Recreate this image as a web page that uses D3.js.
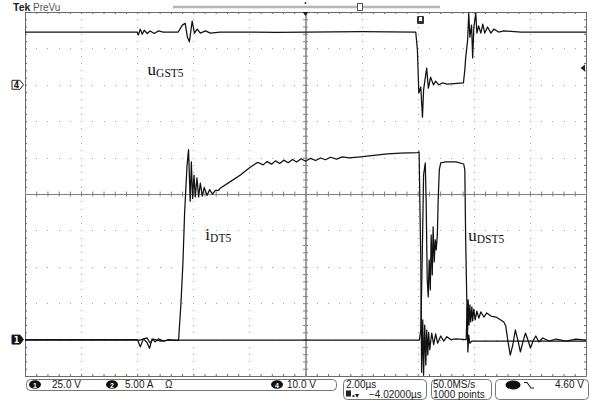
<!DOCTYPE html>
<html>
<head>
<meta charset="utf-8">
<script src="https://cdn.jsdelivr.net/npm/d3@7"></script>
<style>
  body { margin: 0; background: #fff; }
  svg { display: block; }
</style>
</head>
<body>
<svg id="chart"></svg>
<script>
// waveform samples: [time in µs from left edge, value]
// ch4 gate-source voltage (V)
const uGS = [
  [0, 14.5], [4.0, 14.5], [4.04, 13.7], [4.11, 15.3], [4.18, 13.9], [4.25, 15.0], [4.36, 14.1],
  [4.46, 14.8], [4.61, 14.1], [4.75, 14.8], [4.93, 14.5], [5.46, 14.5],
  [5.61, 16.4], [5.71, 16.9], [5.79, 13.1], [5.86, 11.8], [5.96, 17.5], [6.04, 14.2], [6.14, 15.3],
  [6.25, 14.2], [6.43, 14.8], [6.61, 14.2], [6.96, 14.5], [9.0, 14.4], [12.0, 14.6], [13.93, 14.5],
  [13.99, 9.6], [14.04, -2.3], [14.11, -0.6], [14.17, -8.9], [14.21, -1.4], [14.32, 4.6], [14.38, -0.9],
  [14.46, 2.1], [14.56, 0.0], [14.64, 1.0], [14.75, 0.0], [14.88, 0.5], [15.06, 0.2], [15.63, 0.5],
  [15.68, 4.1], [15.71, 7.4], [15.78, 12.3], [15.82, 19.7], [15.86, 13.1], [15.92, 16.4], [15.96, 7.4],
  [16.0, 15.6], [16.07, 19.7], [16.11, 14.2], [16.17, 16.2], [16.25, 14.2], [16.32, 16.7], [16.39, 14.2],
  [16.49, 15.9], [16.61, 14.2], [16.71, 15.3], [16.89, 14.5], [17.07, 14.8], [17.68, 14.5], [20, 14.5]
];

// ch2 drain current (A)
const iD = [
  [0, 0], [4.0, 0], [4.04, -0.3], [4.11, -1.0], [4.22, 0.1], [4.35, -0.4], [4.44, -1.2], [4.53, 0.1],
  [4.64, -0.3], [4.76, 0.1], [4.94, -0.2], [5.12, 0], [5.36, -0.1], [5.475, -0.1],
  [5.56, 5.0], [5.63, 10.5], [5.69, 17.4], [5.775, 23.8], [5.83, 26.1], [5.89, 19.0], [5.93, 24.4],
  [5.975, 19.4], [6.025, 22.6], [6.07, 19.6], [6.13, 22.2], [6.19, 19.6], [6.25, 21.5], [6.32, 19.7],
  [6.39, 20.9], [6.49, 19.8], [6.58, 20.6], [6.68, 20.0], [6.79, 20.5], [6.90, 20.5],
  [6.96, 20.8], [7.32, 21.7], [7.68, 22.6], [8.04, 23.7], [8.275, 24.3],
  [8.33, 24.3], [8.49, 24.0], [8.63, 24.45], [8.79, 24.1], [8.93, 24.55], [9.08, 24.2], [9.225, 24.65],
  [9.38, 24.3], [9.54, 24.75], [9.68, 24.4], [9.85, 24.85], [10.0, 24.5], [10.18, 24.9], [10.36, 24.6],
  [10.54, 24.95], [10.71, 24.7], [10.89, 25.05], [11.11, 24.8], [11.31, 25.1], [11.55, 24.95],
  [11.96, 25.1], [12.44, 25.3], [12.92, 25.5], [13.39, 25.6], [13.99, 25.7], [14.05, 25.8],
  [14.11, 10.9], [14.14, -4.5], [14.18, 2.7], [14.21, -4.9], [14.25, 2.0], [14.29, -3.5], [14.32, 1.3],
  [14.36, -2.1], [14.39, 1.0], [14.43, -1.4], [14.5, 0.9], [14.57, -0.7], [14.64, 0.8], [14.71, -0.5],
  [14.82, 0.5], [14.93, -0.2], [15.04, 0.4], [15.18, 0], [15.36, 0.1], [15.73, 0],
  [15.76, 4.5], [15.79, -1.7], [15.82, 0.6], [15.86, -0.5], [15.93, -0.2], [20, -0.2]
];

// ch1 drain-source voltage (V)
const uDS = [
  [0, -0.3], [4.1, -0.3], [4.35, 1.2], [4.46, -2.3], [4.57, 0.4], [4.82, -1.0], [5.18, -0.3], [14.06, -0.3],
  [14.11, 6.6], [14.16, 54.7], [14.21, 113.1], [14.27, 121.3], [14.30, 95.9], [14.34, 40.9], [14.375, 29.3],
  [14.41, 54.7], [14.45, 34.1], [14.48, 71.9], [14.52, 44.4], [14.55, 77.4], [14.59, 53.3], [14.625, 68.5],
  [14.66, 61.6], [14.70, 71.9], [14.73, 95.9], [14.77, 116.5], [14.82, 121.3], [15.0, 122.0], [15.36, 122.0],
  [15.64, 120.6], [15.68, 116.5], [15.71, 68.5], [15.75, 27.3], [15.78, 6.6], [15.80, 27.3], [15.83, 10.0],
  [15.86, 23.8], [15.89, 12.1], [15.93, 22.4], [15.96, 12.8], [16.0, 21.0], [16.05, 13.5], [16.11, 19.6],
  [16.18, 14.8], [16.25, 19.0], [16.36, 15.5], [16.46, 18.3], [16.61, 16.2], [16.79, 15.5], [16.96, 13.5],
  [17.07, 12.1], [17.14, 9.3], [17.21, -0.3], [17.30, -10.6], [17.39, -3.7], [17.48, 6.6], [17.57, -0.3],
  [17.66, -8.5], [17.75, -1.6], [17.84, 4.5], [17.93, -0.3], [18.02, -5.8], [18.11, -1.0], [18.21, 2.5],
  [18.32, -1.6], [18.46, 1.1], [18.68, -1.0], [18.93, 0.4], [19.29, -1.0], [19.64, 0.4], [20, -0.3]
];

// volts (amps) per division and ground offset in divisions
const ch1Setting = [25, -4];
const ch2Setting = [5, -4];
const ch4Setting = [10, 3];

const timeDomain = [0, 20];
const divDomain = [-5, 5];

const traceLabels = [
  { main: "u", sub: "GST5", t: 4.37, v: 2.7, ch: "ch4" },
  { main: "i", sub: "DT5", t: 6.43, v: 13.7, ch: "ch2" },
  { main: "u", sub: "DST5", t: 15.8, v: 68, ch: "ch1" }
];

const channelInfo = [
  ["1", "25.0 V"],
  ["2", "5.00 A"],
  ["4", "10.0 V"]
];
const timebaseText = ["2.00µs", "−4.02000µs"];
const acquireText = ["50.0MS/s", "1000 points"];
const triggerText = "4.60 V";

// layout
const svgDimensions = { width: 590, height: 400 };
const plot = { left: 25, right: 586, top: 12, bottom: 376 };
const gridColor = "#808080";
const dotColor = "#a0a0a0";
const traceColor = "#111";

const svg = d3
  .select("#chart")
  .attr("width", svgDimensions.width)
  .attr("height", svgDimensions.height)
  .style("background-color", "#fff");

const x = d3.scaleLinear().domain(timeDomain).range([plot.left, plot.right]);
const yDiv = d3.scaleLinear().domain(divDomain).range([plot.bottom, plot.top]);

const channelScale = ([perDiv, offset]) =>
  d3.scaleLinear()
    .domain([(divDomain[0] - offset) * perDiv, (divDomain[1] - offset) * perDiv])
    .range([plot.bottom, plot.top]);

const scales = {
  ch1: channelScale(ch1Setting),
  ch2: channelScale(ch2Setting),
  ch4: channelScale(ch4Setting)
};

// ---- graticule ----
const minorT = d3.range(0, 51).map(i => i * 0.4);
const minorDiv = d3.range(0, 51).map(i => -5 + i * 0.2);
const majorT = d3.range(1, 10).map(i => i * 2).filter(t => t !== 10);
const majorDiv = d3.range(-4, 5).filter(d => d !== 0);

const grid = svg.append("g");

const dots = [];
majorT.forEach(t => minorDiv.slice(1, -1).forEach(d => dots.push([x(t), yDiv(d)])));
majorDiv.forEach(d => minorT.slice(1, -1).forEach(t => dots.push([x(t), yDiv(d)])));

grid.selectAll("rect.dot")
  .data(dots)
  .enter()
  .append("rect")
  .attr("class", "dot")
  .attr("x", d => Math.round(d[0]))
  .attr("y", d => Math.round(d[1]))
  .attr("width", 1)
  .attr("height", 1)
  .attr("fill", dotColor);

const styleAxis = (g, color) => {
  g.select(".domain").attr("stroke", color);
  g.selectAll(".tick line").attr("stroke", color);
  g.selectAll(".tick text").remove();
};

const addAxis = (axis, tx, ty, color) => {
  grid.append("g")
    .attr("transform", `translate(${tx},${ty})`)
    .call(axis.tickFormat("").tickSizeOuter(0))
    .call(g => styleAxis(g, color));
};

// frame with inward ticks
addAxis(d3.axisBottom(x).tickValues(minorT).tickSizeInner(2), 0, plot.top, "#6a6a6a");
addAxis(d3.axisTop(x).tickValues(minorT).tickSizeInner(2), 0, plot.bottom, "#6a6a6a");
addAxis(d3.axisRight(yDiv).tickValues(minorDiv).tickSizeInner(2), plot.left, 0, "#6a6a6a");
addAxis(d3.axisLeft(yDiv).tickValues(minorDiv).tickSizeInner(2), plot.right, 0, "#6a6a6a");

// centre cross with ticks both sides
addAxis(d3.axisBottom(x).tickValues(minorT).tickSizeInner(2.5), 0, yDiv(0), gridColor);
addAxis(d3.axisTop(x).tickValues(minorT).tickSizeInner(2.5), 0, yDiv(0), gridColor);
addAxis(d3.axisLeft(yDiv).tickValues(minorDiv).tickSizeInner(2.5), x(10), 0, gridColor);
addAxis(d3.axisRight(yDiv).tickValues(minorDiv).tickSizeInner(2.5), x(10), 0, gridColor);

// ---- traces ----
svg.append("clipPath")
  .attr("id", "plot-clip")
  .append("rect")
  .attr("x", plot.left)
  .attr("y", plot.top)
  .attr("width", plot.right - plot.left)
  .attr("height", plot.bottom - plot.top);

const traces = [
  [uDS, "ch1"],
  [iD, "ch2"],
  [uGS, "ch4"]
];

const traceGroup = svg.append("g").attr("clip-path", "url(#plot-clip)");

traces.forEach(([data, ch]) => {
  const line = d3.line()
    .x(d => x(d[0]))
    .y(d => scales[ch](d[1]));
  traceGroup.append("path")
    .datum(data)
    .attr("d", line)
    .attr("fill", "none")
    .attr("stroke", traceColor)
    .attr("stroke-width", 1.25)
    .attr("stroke-linejoin", "round");
});

// ---- trace labels ----
traceLabels.forEach(l => {
  const text = svg.append("text")
    .attr("x", x(l.t))
    .attr("y", scales[l.ch](l.v))
    .attr("font-family", "'Liberation Serif', 'Times New Roman', serif")
    .attr("fill", "#111");
  text.append("tspan").attr("font-size", 17).text(l.main);
  text.append("tspan").attr("font-size", 11.5).attr("dy", 2.5).text(l.sub);
});

// ---- scope markers ----
const markers = svg.append("g");

markers.append("text")
  .attr("x", 13).attr("y", 10.5)
  .attr("font-family", "'Liberation Sans', Arial, sans-serif")
  .attr("font-size", 10.5).attr("font-weight", "bold").attr("fill", "#222")
  .text("Tek");
markers.append("text")
  .attr("x", 33).attr("y", 10.5)
  .attr("font-family", "'Liberation Sans', Arial, sans-serif")
  .attr("font-size", 10).attr("fill", "#555")
  .text("PreVu");

// record length bar
markers.append("line")
  .attr("x1", 173).attr("x2", 440).attr("y1", 7).attr("y2", 7)
  .attr("stroke", "#b5b5b5").attr("stroke-width", 2.5);
markers.append("rect")
  .attr("x", 357.5).attr("y", 3.5).attr("width", 5).attr("height", 7)
  .attr("fill", "#fff").attr("stroke", "#555");

// trigger position
markers.append("circle").attr("cx", x(10)).attr("cy", 3).attr("r", 1).attr("fill", "#333");
markers.append("path")
  .attr("d", `M${x(10) - 3},${plot.top} h6 l-3,4 z`)
  .attr("fill", "#222");
markers.append("rect")
  .attr("x", x(14.1) - 3.5).attr("y", 16).attr("width", 7).attr("height", 8).attr("rx", 1)
  .attr("fill", "#333");
markers.append("rect")
  .attr("x", x(14.1) - 1.5).attr("y", 17).attr("width", 3).attr("height", 4)
  .attr("fill", "#fff");

// channel ground markers
const groundMarker = (label, y, filled) => {
  markers.append("path")
    .attr("d", `M12,${y - 4.5} h8 l3.5,4.5 l-3.5,4.5 h-8 z`)
    .attr("fill", filled ? "#111" : "#fff")
    .attr("stroke", "#222");
  markers.append("text")
    .attr("x", 16.5).attr("y", y + 3)
    .attr("text-anchor", "middle")
    .attr("font-family", "'DejaVu Sans', sans-serif")
    .attr("font-size", 8).attr("font-weight", "bold")
    .attr("fill", filled ? "#fff" : "#222")
    .text(label);
};
groundMarker("4", scales.ch4(0), false);
groundMarker("1", scales.ch1(0), true);

// trigger level
markers.append("path")
  .attr("d", `M${plot.right - 1},${scales.ch4(4.6) - 3.5} l-4.5,3.5 l4.5,3.5 z`)
  .attr("fill", "#222");

// ---- status bar ----
const status = svg.append("g")
  .attr("font-family", "'Liberation Sans', Arial, sans-serif")
  .attr("font-size", 10)
  .attr("fill", "#1a1a1a");

const box = (x0, x1, y0, y1) =>
  status.append("rect")
    .attr("x", x0 + 0.5).attr("y", y0 + 0.5)
    .attr("width", x1 - x0).attr("height", y1 - y0)
    .attr("rx", 4)
    .attr("fill", "none").attr("stroke", "#777");

box(26, 336, 379, 390);
box(343, 426, 379, 399);
box(431, 491, 379, 399);
box(495, 588, 379, 399);

const channelX = [[35, 52], [112, 125], [277, 287]];
channelInfo.forEach(([num, txt], i) => {
  const [cx, tx] = channelX[i];
  status.append("ellipse")
    .attr("cx", cx).attr("cy", 384.5).attr("rx", 6).attr("ry", 4.3)
    .attr("fill", "#111");
  status.append("text")
    .attr("x", cx).attr("y", 387.5).attr("text-anchor", "middle")
    .attr("font-size", 7).attr("font-weight", "bold").attr("fill", "#fff")
    .text(num);
  status.append("text").attr("x", tx).attr("y", 388).text(txt);
});
status.append("text").attr("x", 165).attr("y", 388).text("Ω");

status.append("text").attr("x", 346).attr("y", 388).text(timebaseText[0]);
status.append("rect").attr("x", 346).attr("y", 390.5).attr("width", 5).attr("height", 6).attr("fill", "#222");
status.append("text").attr("x", 352).attr("y", 397.5).attr("font-size", 8).text("•▾");
status.append("text").attr("x", 369).attr("y", 397.5).text(timebaseText[1]);

status.append("text").attr("x", 433).attr("y", 388).text(acquireText[0]);
status.append("text").attr("x", 433).attr("y", 397.5).text(acquireText[1]);

status.append("ellipse")
  .attr("cx", 513).attr("cy", 385).attr("rx", 7.5).attr("ry", 4.5)
  .attr("fill", "#111");
status.append("path")
  .attr("d", "M524,382.5 h3 l4,5.5 h3")
  .attr("fill", "none").attr("stroke", "#222").attr("stroke-width", 1.2);
status.append("text").attr("x", 555).attr("y", 388).text(triggerText);
</script>
</body>
</html>
